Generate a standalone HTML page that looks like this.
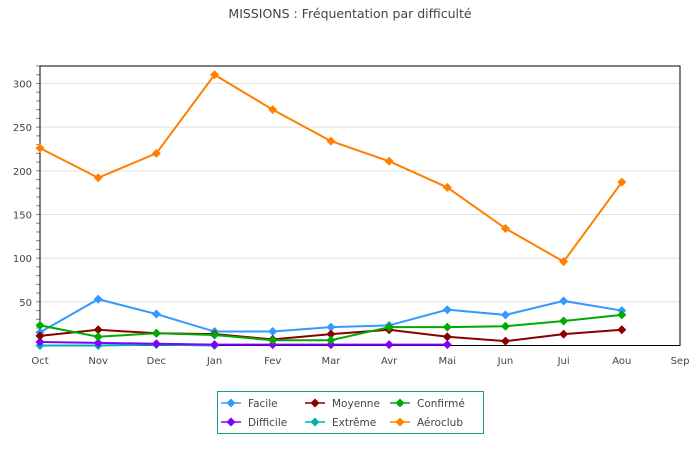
<!DOCTYPE html>
<html><head><meta charset="utf-8"><style>
body{margin:0;background:#fff;font-family:"DejaVu Sans","Liberation Sans",sans-serif;}
svg text{font-family:"DejaVu Sans","Liberation Sans",sans-serif;}
</style></head><body>
<svg id="chart" width="700" height="460" xmlns="http://www.w3.org/2000/svg">
<text x="350" y="18" text-anchor="middle" font-size="12.5" fill="#444">MISSIONS : Fréquentation par difficulté</text>
<g id="grid"></g><g id="axes"></g><g id="series"></g>
<rect x="217.5" y="391.5" width="266" height="42" fill="#fff" stroke="#1a9a8a"/>
<g id="legend"></g>
</svg>
<script>
const categories=["Oct","Nov","Dec","Jan","Fev","Mar","Avr","Mai","Jun","Jui","Aou","Sep"];
const yTicks=[50,100,150,200,250,300];
const seriesNames=["Facile","Difficile","Moyenne","Extrême","Confirmé","Aéroclub"];
const seriesColors=["#3399ff","#8000ff","#880000","#00b0b0","#00aa00","#ff8000"];
const facile=[15,53,36,16,16,21,23,41,35,51,40];
const difficile=[4,3,2,1,1,1,1,1];
const moyenne=[11,18,14,13,7,13,18,10,5,13,18];
const extreme=[0,0,1,0];
const confirme=[23,10,14,12,6,6,21,21,22,28,35];
const aeroclub=[226,192,220,310,270,234,211,181,134,96,187];
const seriesData=[facile,difficile,moyenne,extreme,confirme,aeroclub];
const drawOrder=[3,1,0,2,4,5];
const L=40,R=680,T=66,B=345.5,YMAX=320;
const NS="http://www.w3.org/2000/svg";
function x(i){return L+i*(R-L)/(categories.length-1);}
function y(v){return B-v*(B-T)/YMAX;}
function mk(tag,attrs,parent){const e=document.createElementNS(NS,tag);for(const k in attrs)e.setAttribute(k,attrs[k]);parent.appendChild(e);return e;}
const grid=document.getElementById('grid'),axes=document.getElementById('axes'),ser=document.getElementById('series'),leg=document.getElementById('legend');
yTicks.forEach(t=>{
 const g=mk('line',{x1:L,x2:R,y1:y(t),y2:y(t),stroke:'#e0e0e0'},grid);
 
 
 const tx=mk('text',{x:32,y:y(t)+4,'text-anchor':'end','font-size':'10',fill:'#444'},axes);
 tx.textContent=t;
 
 
});
for(let v=0;v<=YMAX;v+=10){mk('line',{x1:L-4,x2:L,y1:y(v),y2:y(v),stroke:'#888'},axes);}
mk('rect',{x:L,y:T,width:R-L,height:B-T,fill:'none',stroke:'#000'},axes);
categories.forEach((c,i)=>{
 const tx=mk('text',{x:x(i),y:364,'text-anchor':'middle','font-size':'10',fill:'#444'},axes);
 tx.textContent=c;
 
 
});
function diamond(cx,cy,r,col,parent){return mk('polygon',{points:`${cx},${cy-r} ${cx+r},${cy} ${cx},${cy+r} ${cx-r},${cy}`,fill:col},parent);}
drawOrder.forEach(s=>{
 const d=seriesData[s],col=seriesColors[s];
 const g=mk('g',{},ser);
 
 
 mk('polyline',{points:d.map((v,i)=>x(i)+','+y(v)).join(' '),fill:'none',stroke:col,'stroke-width':2},g);
 d.forEach((v,i)=>{
  const p=diamond(x(i),y(v),4.5,col,g);
  
  
 });
});
seriesNames.forEach((n,s)=>{
 const col=s%2, row=Math.floor(s/2);
 const cx=[231,315,400][row], cy=[403,422][col];
 const g=mk('g',{},leg);
 
 
 mk('line',{x1:cx-10,x2:cx+10,y1:cy,y2:cy,stroke:seriesColors[s],'stroke-width':1.5},g);
 diamond(cx,cy,4.5,seriesColors[s],g);
 const t=mk('text',{x:cx+17,y:cy+4,'font-size':'10.5',fill:'#444'},g);
 t.textContent=n;
});
</script>
</body></html>
